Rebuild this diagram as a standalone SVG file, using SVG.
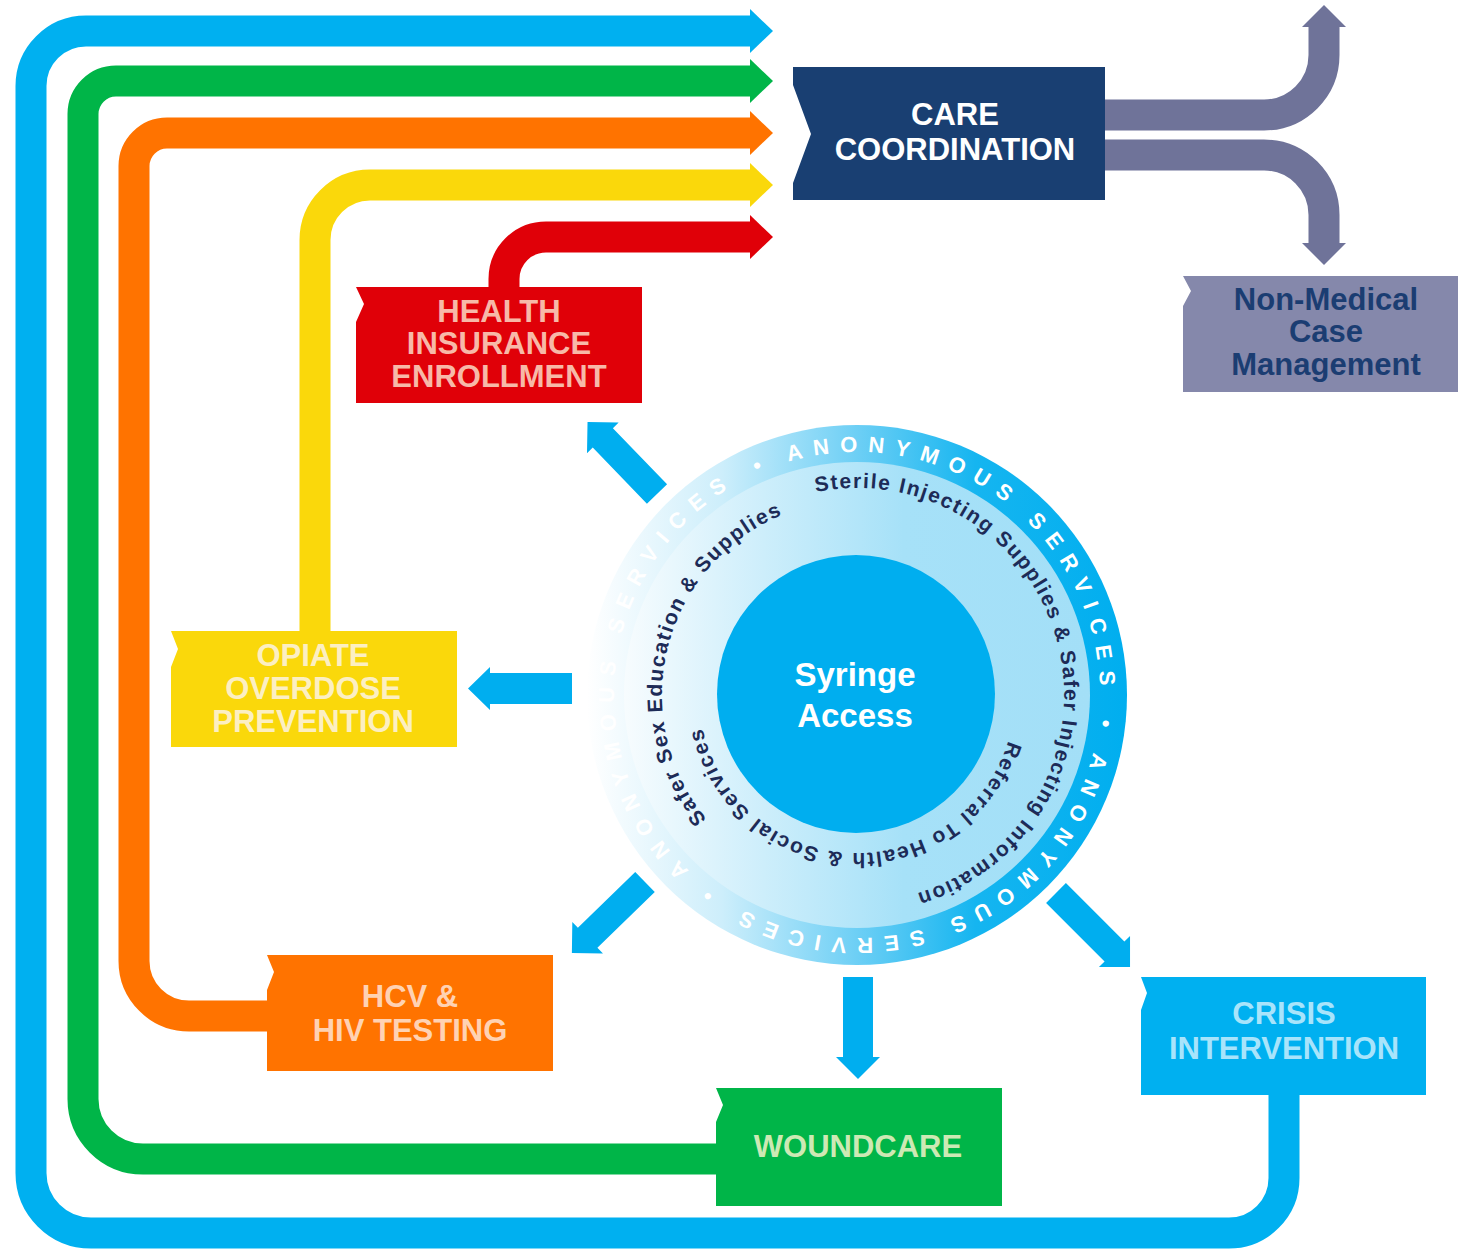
<svg xmlns="http://www.w3.org/2000/svg" width="1458" height="1249" viewBox="0 0 1458 1249">
<defs>
<style>
.pipe{fill:none;stroke-width:31;stroke-linecap:butt}
.lbl{font-family:"Liberation Sans",Arial,sans-serif;font-weight:bold;font-size:31px;text-anchor:middle}
.ring{font-family:"Liberation Sans",Arial,sans-serif;font-weight:bold;font-size:21px;fill:#1d2b57;letter-spacing:1.6px}
.anon{font-family:"Liberation Sans",Arial,sans-serif;font-weight:bold;font-size:22px;fill:#ffffff;letter-spacing:10.5px}
.ra{fill:#00aeef}
</style>
<linearGradient id="gOuter" x1="0" y1="0" x2="1" y2="0">
<stop offset="0" stop-color="#ffffff"/>
<stop offset="0.25" stop-color="#cdeefb"/>
<stop offset="0.5" stop-color="#6dcff5"/>
<stop offset="0.72" stop-color="#15b5f0"/>
<stop offset="1" stop-color="#00aeef"/>
</linearGradient>
<linearGradient id="gInner" x1="0" y1="0" x2="1" y2="0">
<stop offset="0" stop-color="#f7fcfe"/>
<stop offset="0.3" stop-color="#cdeefb"/>
<stop offset="0.6" stop-color="#a6e1f8"/>
<stop offset="1" stop-color="#a3dff7"/>
</linearGradient>
<path id="pOuter" d="M 615.81 665.39 A 243 243 0 1 1 1098.19 724.61 A 243 243 0 1 1 615.81 665.39 A 243 243 0 1 1 1098.19 724.61 A 243 243 0 1 1 615.81 665.39"/>
<path id="pSterile" d="M 857 902 A 207 207 0 1 1 857 488 A 207 207 0 1 1 857 902"/>
<path id="pSafer" d="M 857 890 A 195 195 0 1 1 857 500 A 195 195 0 1 1 857 890"/>
<path id="pReferral" d="M 857 537 A 158 158 0 1 1 857 853 A 158 158 0 1 1 857 537"/>
</defs>
<rect width="1458" height="1249" fill="#ffffff"/>

<g id="connectors">
  <path class="pipe" stroke="#00b0f0" d="M 1284 1094 V 1178 A 55 55 0 0 1 1229 1233 H 91 A 60 60 0 0 1 31 1173 V 86 A 55 55 0 0 1 86 31 H 752"/>
  <polygon fill="#00b0f0" points="750,9 773,31 750,53"/>
  <path class="pipe" stroke="#00b548" d="M 720 1159 H 143 A 60 60 0 0 1 83 1099 V 114 A 33 33 0 0 1 116 81 H 752"/>
  <polygon fill="#00b548" points="750,59 773,81 750,103"/>
  <path class="pipe" stroke="#ff7300" d="M 272 1016 H 189 A 55 55 0 0 1 134 961 V 166 A 33 33 0 0 1 167 133 H 752"/>
  <polygon fill="#ff7300" points="750,111 773,133 750,155"/>
  <path class="pipe" stroke="#fad80b" d="M 315 634 V 240 A 55 55 0 0 1 370 185 H 752"/>
  <polygon fill="#fad80b" points="750,163 773,185 750,207"/>
  <path class="pipe" stroke="#e00008" d="M 504 290 V 279 A 42 42 0 0 1 546 237 H 752"/>
  <polygon fill="#e00008" points="750,215 773,237 750,259"/>
  <path class="pipe" stroke="#6f7399" d="M 1100 115 H 1264 A 60 60 0 0 0 1324 55 V 26"/>
  <polygon fill="#6f7399" points="1302,27 1324,5 1346,27"/>
  <path class="pipe" stroke="#6f7399" d="M 1100 155 H 1264 A 60 60 0 0 1 1324 215 V 244"/>
  <polygon fill="#6f7399" points="1302,243 1324,265 1346,243"/>
  <polygon class="ra" transform="translate(657,494) rotate(-134)" points="0,-14 78,-14 78,-22 100,0 78,22 78,14 0,14"/>
  <polygon class="ra" points="572,673 490,673 490,667 468,688.5 490,710 490,704 572,704"/>
  <polygon class="ra" transform="translate(645,882) rotate(135.8)" points="0,-14 80,-14 80,-22 102,0 80,22 80,14 0,14"/>
  <polygon class="ra" points="843,977 873,977 873,1057 880,1057 858,1079 836,1057 843,1057"/>
  <polygon class="ra" transform="translate(1056,893) rotate(45)" points="0,-14 82.7,-14 82.7,-22 104.7,0 82.7,22 82.7,14 0,14"/>
</g>

<g id="care-coordination">
  <polygon fill="#193f72" points="793,67 1105,67 1105,200 793,200 793,183 811,134 793,85"/>
  <text class="lbl" fill="#ffffff" x="955" y="125">CARE</text>
  <text class="lbl" fill="#ffffff" x="955" y="160">COORDINATION</text>
</g>

<g id="non-medical-case-management">
  <polygon fill="#8588ab" points="1183,276 1458,276 1458,392 1183,392 1183,306 1191,291"/>
  <text class="lbl" fill="#1b3d72" x="1326" y="310">Non-Medical</text>
  <text class="lbl" fill="#1b3d72" x="1326" y="342">Case</text>
  <text class="lbl" fill="#1b3d72" x="1326" y="375">Management</text>
</g>

<g id="health-insurance-enrollment">
  <polygon fill="#e00008" points="356,287 642,287 642,403 356,403 356,322 364,304"/>
  <text class="lbl" fill="#f7b9a8" x="499" y="322">HEALTH</text>
  <text class="lbl" fill="#f7b9a8" x="499" y="354">INSURANCE</text>
  <text class="lbl" fill="#f7b9a8" x="499" y="387">ENROLLMENT</text>
</g>

<g id="opiate-overdose-prevention">
  <polygon fill="#fad80b" points="171,631 457,631 457,747 171,747 171,667 178,649"/>
  <text class="lbl" fill="#fcefc2" x="313" y="666">OPIATE</text>
  <text class="lbl" fill="#fcefc2" x="313" y="699">OVERDOSE</text>
  <text class="lbl" fill="#fcefc2" x="313" y="732">PREVENTION</text>
</g>

<g id="hcv-hiv-testing">
  <polygon fill="#ff7300" points="267,955 553,955 553,1071 267,1071 267,990 274,972"/>
  <text class="lbl" fill="#ffd2b3" x="410" y="1007">HCV &amp;</text>
  <text class="lbl" fill="#ffd2b3" x="410" y="1041">HIV TESTING</text>
</g>

<g id="woundcare">
  <polygon fill="#00b548" points="716,1088 1002,1088 1002,1206 716,1206 716,1122 723,1105"/>
  <text class="lbl" fill="#cde9b4" x="858" y="1157">WOUNDCARE</text>
</g>

<g id="crisis-intervention">
  <polygon fill="#00b0f0" points="1141,977 1426,977 1426,1095 1141,1095 1141,1010 1147,993"/>
  <text class="lbl" fill="#a8e4fb" x="1284" y="1024">CRISIS</text>
  <text class="lbl" fill="#a8e4fb" x="1284" y="1059">INTERVENTION</text>
</g>

<g id="syringe-access">
  <circle cx="857" cy="695" r="270" fill="url(#gOuter)"/>
  <circle cx="857" cy="695" r="233" fill="url(#gInner)"/>
  <circle cx="856" cy="694" r="139" fill="#00aeef"/>
  <g class="anon">
    <text><textPath href="#pOuter" startOffset="248.2">• ANONYMOUS</textPath></text>
    <text><textPath href="#pOuter" startOffset="539.5">SERVICES</textPath></text>
    <text><textPath href="#pOuter" startOffset="757.2">• ANONYMOUS</textPath></text>
    <text><textPath href="#pOuter" startOffset="1048.5">SERVICES</textPath></text>
    <text><textPath href="#pOuter" startOffset="1266.1">• ANONYMOUS</textPath></text>
    <text><textPath href="#pOuter" startOffset="1557.4">SERVICES</textPath></text>
  </g>
  <g class="ring">
    <text><textPath href="#pSterile" startOffset="608.8">Sterile Injecting Supplies</textPath></text>
    <text><textPath href="#pSterile" startOffset="907.6">&amp; Safer Injecting</textPath></text>
    <text><textPath href="#pSterile" startOffset="1108">Information</textPath></text>
    <text><textPath href="#pSafer" startOffset="171.3">Safer Sex Education &amp; Supplies</textPath></text>
    <text><textPath href="#pReferral" startOffset="294.4">Referral To Health &amp; Social Services</textPath></text>
  </g>
  <text class="lbl" fill="#ffffff" style="font-size:33px" x="855" y="686">Syringe</text>
  <text class="lbl" fill="#ffffff" style="font-size:33px" x="855" y="727">Access</text>
</g>
</svg>
